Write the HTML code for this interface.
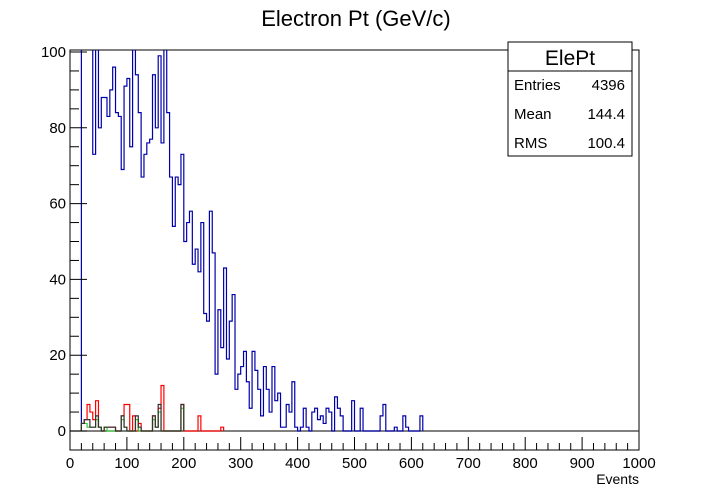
<!DOCTYPE html>
<html><head><meta charset="utf-8"><style>
body{margin:0;background:#fff;}
svg{display:block;font-family:"Liberation Sans",Arial,sans-serif;}
</style></head><body>
<svg id="chart" width="711" height="501" viewBox="0 0 711 501" xmlns="http://www.w3.org/2000/svg">
<rect x="0" y="0" width="711" height="501" fill="#fff"/>
<text x="356" y="26" font-size="22" text-anchor="middle">Electron Pt (GeV/c)</text>
<defs><clipPath id="fc"><rect x="70" y="50" width="569" height="400"/></clipPath></defs>
<rect x="70" y="50" width="569" height="400" fill="none" stroke="#000" stroke-width="1"/>
<g id="hists" clip-path="url(#fc)"></g>
<g id="axes"></g>
<text x="639" y="484" font-size="14" text-anchor="end">Events</text>
<g>
<rect x="508" y="42" width="124" height="114" fill="#fff" stroke="#000" stroke-width="1"/>
<line x1="508" y1="71" x2="632" y2="71" stroke="#000"/>
<text x="570" y="65" font-size="21" text-anchor="middle">ElePt</text>
<text x="514" y="90" font-size="15">Entries</text>
<text x="625" y="90" font-size="15" text-anchor="end">4396</text>
<text x="514" y="119" font-size="15">Mean</text>
<text x="625" y="119" font-size="15" text-anchor="end">144.4</text>
<text x="514" y="148" font-size="15">RMS</text>
<text x="625" y="148" font-size="15" text-anchor="end">100.4</text>
</g>
</svg>
<script>
const binWidth = 5;
const blueStart = 20;
const blueValues = [110,110,110,110,73,110,80,88,88,83,90,96,84,83,69,91,93,75,110,94,84,67,73,76,77,94,80,99,76,110,84,
67,54,67,65,73,50,55,58,44,48,42,55,31,29,58,47,15,32,22,43,19,29,36,11,15,17,21,13,6,21,16,11,4,17,11,5,17,8,10,1,1,
7,5,13,1,0,1,6,1,0,5,6,3,4,2,6,5,0,9,6,4,0,0,0,8,0,0,6,0,0,0,0,0,0,4,7,0,0,0,1,0,0,4,1,0,0,0,0,4];
const redStart = 20;
const redValues = [2,3,7,5,3,8,1,0,1,1,1,1,0,0,4,7,7,0,4,0,2,0,0,0,0,4,1,6,12,0,0,0,0,0,0,7,0,0,0,0,0,4,0,0,0,0,0,0,0,1];
const greenStart = 20;
const greenValues = [2,2,1,1,1,3,1,0,1,0,0,0,0,0,3,1,0,0,0,3,0,0,0,0,0,3,1,5,0,0,0,0,0,0,0,6];
const blackStart = 20;
const blackValues = [2,3,3,1,1,4,1,0,1,1,1,1,0,0,4,1,0,0,0,4,1,0,0,0,0,4,1,7,0,0,0,0,0,0,0,7];
const xTicks = [0,100,200,300,400,500,600,700,800,900,1000];
const yTicks = [0,20,40,60,80,100];

const NS = "http://www.w3.org/2000/svg";
const X0 = 70, X1 = 639, Y0 = 431, Y100 = 52;
function xs(v){ return X0 + (X1 - X0) * v / 1000; }
function ys(v){ return Y0 + (Y100 - Y0) * v / 100; }
function histPath(start, vals){
  let d = "M" + xs(start) + "," + ys(0);
  for (let i = 0; i < vals.length; i++){
    const a = start + i * binWidth, b = a + binWidth;
    d += " L" + xs(a) + "," + ys(vals[i]) + " L" + xs(b) + "," + ys(vals[i]);
  }
  d += " L" + xs(start + vals.length * binWidth) + "," + ys(0);
  return d;
}
const hg = document.getElementById("hists");
function addHist(name, start, vals, color){
  const p = document.createElementNS(NS, "path");
  p.setAttribute("d", histPath(start, vals));
  p.setAttribute("fill", "none");
  p.setAttribute("stroke", color);
  p.setAttribute("stroke-width", "1.2");
  
  
  hg.appendChild(p);
}
const zl = document.createElementNS(NS, "line");
zl.setAttribute("x1", X0); zl.setAttribute("x2", X1);
zl.setAttribute("y1", ys(0)); zl.setAttribute("y2", ys(0));
zl.setAttribute("stroke", "#333"); zl.setAttribute("stroke-width", "1.2");


hg.appendChild(zl);
addHist("blue-series", blueStart, blueValues, "#0000aa");
addHist("red-series", redStart, redValues, "#ff0000");
addHist("green-series", greenStart, greenValues, "#33cc33");
addHist("black-series", blackStart, blackValues, "#333333");

const ag = document.getElementById("axes");
function line(x1,y1,x2,y2,name){
  const l = document.createElementNS(NS, "line");
  l.setAttribute("x1",x1); l.setAttribute("y1",y1); l.setAttribute("x2",x2); l.setAttribute("y2",y2);
  l.setAttribute("stroke","#000"); l.setAttribute("stroke-width","1");
  
  
  ag.appendChild(l);
}
function label(x,y,txt,anchor,name){
  const t = document.createElementNS(NS, "text");
  t.setAttribute("x",x); t.setAttribute("y",y); t.setAttribute("font-size","15");
  t.setAttribute("text-anchor",anchor); t.textContent = txt;
  
  
  ag.appendChild(t);
}
line(X0, 450, X1, 450, "x-axis-line");
line(X0, 50, X0, 450, "y-axis-line");
for (let v = 0; v <= 1000; v += 20){
  const major = (v % 100 === 0);
  line(xs(v), 450, xs(v), major ? 437 : 443, "x-tick");
}
xTicks.forEach(v => label(xs(v), 468, String(v), "middle", "x-tick-label"));
for (let v = 0; v <= 100; v += 5){
  const major = (v % 20 === 0);
  line(X0, ys(v), X0 + (major ? 17 : 9), ys(v), "y-tick");
}
yTicks.forEach(v => label(66, ys(v) + 5, String(v), "end", "y-tick-label"));
</script>
</body></html>
